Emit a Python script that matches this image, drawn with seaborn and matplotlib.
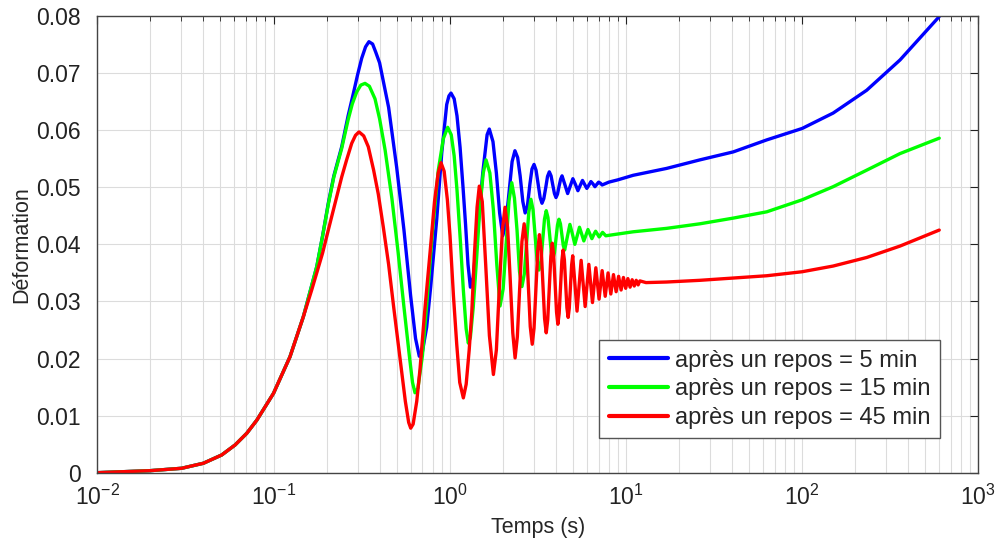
import numpy as np
import pandas as pd
import matplotlib
matplotlib.use('Agg')
import matplotlib.pyplot as plt
import seaborn as sns
from matplotlib.ticker import LogLocator, FixedLocator, NullFormatter

# (time in s, deformation)
t_blue = [0.01, 0.0199, 0.0301, 0.04, 0.0508, 0.0605, 0.0705, 0.0804, 0.1, 0.124,
          0.1476, 0.176, 0.19, 0.2046, 0.22, 0.2438, 0.265, 0.2837, 0.3, 0.3166,
          0.333, 0.348, 0.365, 0.38, 0.4, 0.45, 0.5, 0.55, 0.6, 0.64,
          0.672, 0.70, 0.74, 0.78, 0.8435, 0.901, 0.9616, 0.99, 1.017, 1.06,
          1.10, 1.145, 1.19, 1.23, 1.27, 1.31, 1.36, 1.42, 1.486, 1.54,
          1.586, 1.63, 1.678, 1.76, 1.84, 1.92, 2.0, 2.08, 2.17, 2.26,
          2.345, 2.43, 2.51, 2.6, 2.68, 2.76, 2.85, 2.93,
          3.01, 3.09, 3.175, 3.26, 3.34, 3.42, 3.51, 3.59,
          3.675, 3.76, 3.84, 3.93, 4.01, 4.09, 4.17, 4.26,
          4.34, 4.5, 4.67, 4.83, 5.0, 5.17, 5.34, 5.5, 5.67, 5.83,
          6.0, 6.17, 6.33, 6.5, 6.67, 6.83, 7.0, 7.17, 7.33, 8.0,
          9.0, 11.0, 17.0, 26.3, 40.7, 63.0, 100.0, 150.0, 232.6, 359.4, 600.0]
v_blue = [0, 0.00035, 0.00077, 0.00165, 0.0031, 0.00485, 0.0069, 0.0092, 0.0139, 0.0203,
          0.0273, 0.0361, 0.0415, 0.0472, 0.052, 0.0571, 0.0625, 0.0664, 0.0697, 0.0726,
          0.0746, 0.0755, 0.0751, 0.0737, 0.0718, 0.064, 0.0535, 0.0425, 0.031, 0.0235,
          0.0204, 0.0212, 0.0255, 0.0326, 0.0443, 0.056, 0.0645, 0.066, 0.0665, 0.0655,
          0.0625, 0.057, 0.05, 0.0435, 0.0365, 0.0325, 0.0342, 0.0405, 0.047, 0.0525,
          0.056, 0.0592, 0.0602, 0.058, 0.0525, 0.0455, 0.0415, 0.0435, 0.049, 0.0545,
          0.0564, 0.0552, 0.052, 0.0475, 0.0455, 0.0467, 0.0505, 0.0532,
          0.054, 0.053, 0.0506, 0.0482, 0.0472, 0.048, 0.05, 0.0519,
          0.0527, 0.052, 0.0505, 0.0489, 0.0482, 0.0488, 0.0501, 0.0514,
          0.052, 0.0505, 0.0489, 0.0502, 0.0515, 0.0505, 0.0494, 0.0503, 0.0512, 0.0505,
          0.0498, 0.0504, 0.051, 0.0506, 0.0501, 0.0505, 0.0509, 0.0507, 0.0504, 0.0509,
          0.0513, 0.0521, 0.0533, 0.0548, 0.0562, 0.0583, 0.0603, 0.063, 0.067, 0.0723, 0.0799]

t_green = [0.01, 0.0199, 0.0301, 0.04, 0.0508, 0.0605, 0.0705, 0.0804, 0.1, 0.124,
           0.1476, 0.176, 0.19, 0.2046, 0.22, 0.2438, 0.265, 0.28, 0.2966, 0.313,
           0.3306, 0.35, 0.3767, 0.40, 0.43, 0.47, 0.51, 0.55, 0.59, 0.615,
           0.6353, 0.66, 0.70, 0.7406, 0.80, 0.8615, 0.9198, 0.974, 1.02, 1.06,
           1.10, 1.15, 1.195, 1.24, 1.275, 1.31, 1.36, 1.423, 1.48, 1.55,
           1.607, 1.69, 1.77, 1.85, 1.93, 2.01, 2.09, 2.17, 2.25, 2.33,
           2.41, 2.49, 2.57, 2.65, 2.73, 2.81, 2.89, 2.97, 3.05, 3.13,
           3.21, 3.29, 3.37, 3.45, 3.53, 3.61, 3.69, 3.77, 3.85, 3.93,
           4.01, 4.09, 4.17, 4.25, 4.33, 4.41, 4.49, 4.65, 4.81, 4.97,
           5.13, 5.29, 5.45, 5.61, 5.77, 5.93, 6.09, 6.25, 6.41, 6.57,
           6.73, 6.89, 7.05, 7.21, 7.37, 7.53, 7.69, 8.5, 11.0, 17.0,
           26.3, 40.7, 63.0, 100.0, 150.0, 232.6, 359.4, 600.0]
v_green = [0, 0.00035, 0.00077, 0.00165, 0.0031, 0.00485, 0.0069, 0.0092, 0.0139, 0.0203,
           0.0273, 0.0361, 0.0415, 0.047, 0.0518, 0.0568, 0.0618, 0.0646, 0.0667, 0.0679,
           0.0682, 0.0677, 0.0655, 0.062, 0.0565, 0.048, 0.0385, 0.029, 0.0205, 0.0158,
           0.014, 0.0148, 0.0205, 0.0295, 0.0425, 0.053, 0.0585, 0.0605, 0.0592, 0.0555,
           0.0495, 0.0405, 0.032, 0.0252, 0.0227, 0.0237, 0.029, 0.0378, 0.046, 0.0525,
           0.0548, 0.0525, 0.046, 0.0365, 0.0292, 0.0322, 0.04, 0.0476, 0.0508, 0.0481,
           0.0425, 0.0352, 0.0326, 0.0348, 0.0402, 0.0456, 0.0479, 0.0461, 0.0417, 0.0373,
           0.0355, 0.037, 0.0407, 0.0444, 0.0459, 0.0447, 0.0417, 0.0387, 0.0375, 0.0385,
           0.041, 0.0434, 0.0444, 0.0436, 0.0417, 0.0398, 0.039, 0.0413, 0.0435, 0.0418,
           0.04, 0.0415, 0.043, 0.0418, 0.0406, 0.0416, 0.0426, 0.0418, 0.041, 0.0417,
           0.0423, 0.0418, 0.0413, 0.0417, 0.0421, 0.0418, 0.0415, 0.0417, 0.0422, 0.0428,
           0.0436, 0.0446, 0.0457, 0.0478, 0.0501, 0.053, 0.0559, 0.0586]

t_red = [0.01, 0.0199, 0.0301, 0.04, 0.0508, 0.0605, 0.0705, 0.0804, 0.1, 0.124,
         0.1476, 0.1647, 0.176, 0.19, 0.2046, 0.225, 0.2438, 0.26, 0.2779, 0.292,
         0.3056, 0.325, 0.3451, 0.37, 0.3933, 0.42, 0.45, 0.48, 0.52, 0.56,
         0.585, 0.6008, 0.62, 0.65, 0.6782, 0.72, 0.7731, 0.82, 0.86, 0.8925,
         0.93, 0.97, 1.004, 1.05, 1.096, 1.14, 1.195, 1.24, 1.29, 1.334,
         1.38, 1.43, 1.472, 1.53, 1.6, 1.68, 1.77, 1.84, 1.91, 1.99,
         2.06, 2.13, 2.2, 2.28, 2.35, 2.42, 2.5, 2.57, 2.645, 2.72,
         2.79, 2.865, 2.94, 3.01, 3.085, 3.16, 3.23, 3.305, 3.38, 3.455,
         3.53, 3.6, 3.675, 3.75, 3.82, 3.89, 3.965, 4.04, 4.11, 4.18,
         4.255, 4.33, 4.40, 4.475, 4.55, 4.625, 4.70, 4.77, 4.845, 4.92,
         4.99, 5.135, 5.28, 5.425, 5.57, 5.87, 6.16, 6.46, 6.75, 7.04,
         7.33, 7.63, 7.92, 8.21, 8.5, 8.8, 9.09, 9.39, 9.68, 9.97,
         10.26, 10.56, 10.85, 11.15, 11.44, 11.73, 12.0, 13.0, 17.0, 26.3,
         40.7, 63.0, 100.0, 150.0, 232.6, 359.4, 600.0]
v_red = [0, 0.00035, 0.00077, 0.00165, 0.0031, 0.00485, 0.0069, 0.0092, 0.0139, 0.0203,
         0.0273, 0.032, 0.035, 0.0385, 0.0425, 0.0475, 0.0518, 0.0548, 0.0577, 0.0591,
         0.0597, 0.059, 0.0571, 0.053, 0.0488, 0.043, 0.0365, 0.0292, 0.0205, 0.0125,
         0.0088, 0.0078, 0.0085, 0.0125, 0.0181, 0.028, 0.0385, 0.0475, 0.0525, 0.0543,
         0.0528, 0.0478, 0.0415, 0.031, 0.0225, 0.0158, 0.0131, 0.0155, 0.0215, 0.028,
         0.038, 0.0465, 0.0502, 0.0475, 0.0365, 0.024, 0.0172, 0.0215, 0.032, 0.0425,
         0.0465, 0.043, 0.0345, 0.0245, 0.0201, 0.0238, 0.0328, 0.0405, 0.0436, 0.0405,
         0.0331, 0.0256, 0.0225, 0.0253, 0.0321, 0.0389, 0.0417, 0.0392, 0.0331, 0.027,
         0.0245, 0.0268, 0.0324, 0.0379, 0.0402, 0.0381, 0.0331, 0.0281, 0.026, 0.0279,
         0.0325, 0.0371, 0.039, 0.0373, 0.0331, 0.0289, 0.0272, 0.0288, 0.0326, 0.0364,
         0.038, 0.0331, 0.0283, 0.0327, 0.0372, 0.0291, 0.0365, 0.0298, 0.0359, 0.0304,
         0.0354, 0.0309, 0.035, 0.0313, 0.0347, 0.0317, 0.0344, 0.032, 0.0342, 0.0323,
         0.034, 0.0325, 0.0338, 0.0327, 0.0337, 0.0329, 0.0336, 0.0333, 0.0334, 0.0337,
         0.0341, 0.0345, 0.0352, 0.0362, 0.0377, 0.0397, 0.0425]

labels = ['après un repos = 5 min', 'après un repos = 15 min', 'après un repos = 45 min']
colors = ['#0000ff', '#00ff00', '#ff0000']
y_ticks = [0, 0.01, 0.02, 0.03, 0.04, 0.05, 0.06, 0.07, 0.08]
y_ticklabels = ['0', '0.01', '0.02', '0.03', '0.04', '0.05', '0.06', '0.07', '0.08']

frames = []
for lab, t, v in zip(labels, [t_blue, t_green, t_red], [v_blue, v_green, v_red]):
    assert len(t) == len(v), lab
    frames.append(pd.DataFrame({'t': t, 'v': v, 'serie': lab}))
df = pd.concat(frames, ignore_index=True)

sns.set_theme(style='white')
plt.rcParams['font.family'] = ['Liberation Sans', 'DejaVu Sans']
plt.rcParams['mathtext.fontset'] = 'custom'
plt.rcParams['mathtext.rm'] = 'Liberation Sans'

fig = plt.figure(figsize=(9.99, 5.45), dpi=100)
ax = fig.add_axes([0.0974, 0.1327, 0.8819, 0.8379])

sns.lineplot(data=df, x='t', y='v', hue='serie', hue_order=labels,
             palette=colors, sort=False, estimator=None, linewidth=2.4, ax=ax)

ax.set_xscale('log')
ax.set_xlim(1e-2, 1e3)
ax.set_ylim(0, 0.08)
ax.xaxis.set_major_locator(LogLocator(base=10, numticks=10))
ax.xaxis.set_minor_locator(LogLocator(base=10, subs=np.arange(2, 10), numticks=20))
ax.xaxis.set_minor_formatter(NullFormatter())
ax.yaxis.set_major_locator(FixedLocator(y_ticks))
ax.set_yticklabels(y_ticklabels)

ax.grid(which='both', axis='x', color='#dcdcdc', linewidth=0.8)
ax.grid(which='major', axis='y', color='#dcdcdc', linewidth=0.8)
ax.set_axisbelow(True)

ax.tick_params(which='both', direction='in', top=True, right=True,
               labelsize=16.5, colors='#222222')
ax.tick_params(which='major', length=6, width=0.8)
ax.tick_params(axis='x', which='major', pad=9)
ax.tick_params(axis='y', which='major', pad=12)
ax.tick_params(which='minor', length=3.5, width=0.6)
for sp in ax.spines.values():
    sp.set_color('#444444')
    sp.set_linewidth(1.0)

ax.set_xlabel('Temps (s)', fontsize=15.5, labelpad=5)
ax.set_ylabel('Déformation', fontsize=15.5, labelpad=3)

handles, labs = ax.get_legend_handles_labels()
leg = ax.legend(handles, labs, loc='lower right', bbox_to_anchor=(0.9565, 0.0753),
                fontsize=17, frameon=True, fancybox=False, edgecolor='#555555',
                framealpha=1, handlelength=2.5, handletextpad=0.3,
                borderpad=0.4, labelspacing=0.28, borderaxespad=0)
leg.get_frame().set_linewidth(1.0)
for line in leg.get_lines():
    line.set_linewidth(3)

fig.savefig('out.png', dpi=100)
